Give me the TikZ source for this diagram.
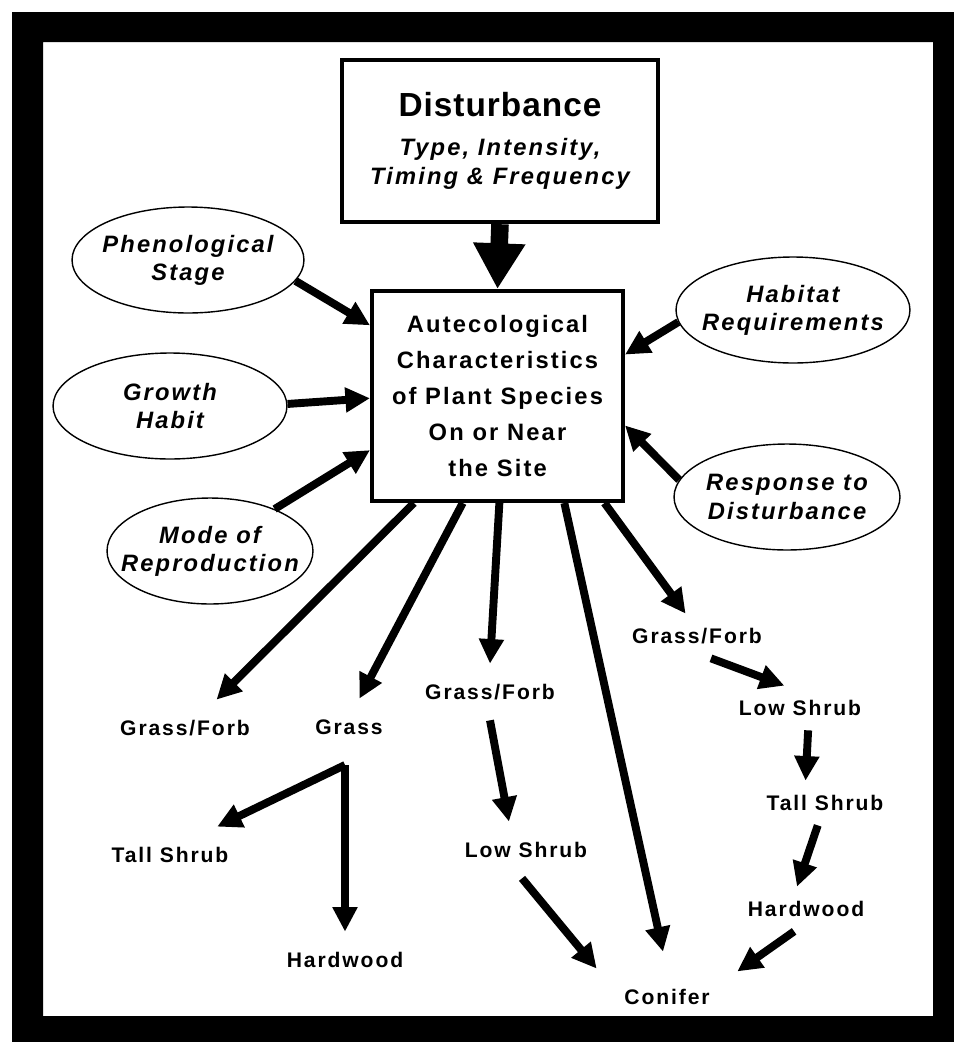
\documentclass[tikz,border=0pt]{standalone}
\usepackage{fontspec}
\setmainfont{Liberation Sans}
\newfontfamily\trackedfont[LetterSpace=9]{Liberation Sans}
\newfontfamily\titlefont[LetterSpace=3]{Liberation Sans}
\usetikzlibrary{arrows.meta,shapes.geometric}
\newcommand{\factor}[4]{%
  \node[factor,minimum width=#3] (#1) at (#2) {};
  \node[factortext] (#1-text) at (#1) {#4};
}

\begin{document}
\begin{tikzpicture}[x=.02cm,y=-.02cm,
    every node/.style={font=\trackedfont\bfseries\fontsize{12}{14}\selectfont},
    factor/.style={ellipse,draw,line width=.8pt,minimum height=2.12cm,inner sep=0pt},
    factortext/.style={align=center,inner sep=0pt,font=\trackedfont\bfseries\itshape\fontsize{13.5}{16}\selectfont},
    stagebox/.style={minimum height=1.12cm,inner sep=0pt},
    flow/.style={line width=4.5pt,-{Triangle[length=14pt,width=13.5pt]}},
    bigflow/.style={line width=10pt,-{Triangle[length=26pt,width=28pt]}}]
  \useasboundingbox (0,0) rectangle (954,1042);
  \fill[white] (0,0) rectangle (954,1042);
  % heavy frame
  \fill[black,even odd rule] (12,12) rectangle (954,1042) (43,42) rectangle (933,1016);

  % boxes
  \node[draw,line width=2.5pt,minimum width=6.32cm,minimum height=3.24cm,align=center,
        font=\trackedfont\bfseries\itshape\fontsize{13.5}{16.4}\selectfont] (disturb) at (500,141)
       {{\titlefont\upshape\fontsize{19}{22}\selectfont Disturbance}\\[5.6pt]Type, Intensity,\\Timing \& Frequency};
  \node[draw,line width=2.3pt,minimum width=5.02cm,minimum height=4.2cm,align=center,
        font=\trackedfont\bfseries\fontsize{13.5}{20.5}\selectfont] (core) at (497.5,396)
       {Autecological\\Characteristics\\of Plant Species\\On or Near\\the Site};

  % factors
  \factor{pheno}{188,260}{4.64cm}{Phenological\\Stage}
  \factor{habit}{170,406}{4.68cm}{Growth\\Habit}
  \factor{repro}{210,551}{4.12cm}{Mode of\\Reproduction}
  \factor{needs}{793,310}{4.68cm}{Habitat\\Requirements}
  \factor{response}{787,497}{4.52cm}{Response to\\Disturbance}

  % successional stages
  \node[stagebox] (gfL) at (185,728) {Grass/Forb};
  \node[stagebox] (grass) at (349,727) {Grass};
  \node[stagebox] (tsL) at (170,855) {Tall Shrub};
  \node[stagebox] (hwL) at (345,960) {Hardwood};
  \node[stagebox] (gfM) at (490,692) {Grass/Forb};
  \node[stagebox] (lsM) at (526,850) {Low Shrub};
  \node[stagebox,minimum width=2.8cm,minimum height=1.8cm] (conifer) at (667,997) {Conifer};
  \node[stagebox,minimum height=.88cm] (gfR) at (697,636) {Grass/Forb};
  \node[stagebox,minimum height=.88cm] (lsR) at (800,708) {Low Shrub};
  \node[stagebox,minimum height=.88cm] (tsR) at (825,803) {Tall Shrub};
  \node[stagebox,minimum height=.88cm] (hwR) at (806,909) {Hardwood};
  \coordinate (split) at (345,765);

  % arrows
  \draw[bigflow] (disturb.south) -- (core.north);
  \draw[flow] (pheno.349) -- (core.151);
  \draw[flow] (habit.1) -- (core.181);
  \draw[flow] (repro.33) -- (core.203);
  \draw[flow] (needs.186) -- (core.18);
  \draw[flow] (response.171) -- (core.347);
  \draw[flow] (core.232) -- (gfL.42);
  \draw[flow] (core.252) -- (grass.70);
  \draw[flow] (core.271) -- (gfM.north);
  \draw[flow] (core.302) -- (conifer.95);
  \draw[flow] (core.315) -- (gfR.117);
  \draw[flow] (split) -- (tsL.31);
  \draw[flow] (split) -- (hwL.north);
  \draw[flow] (gfM.south) -- (lsM.121);
  \draw[flow] (lsM.262) -- (conifer.158);
  \draw[flow] (gfR.302) -- (lsR.125);
  \draw[flow] (lsR.290) -- (tsR.131);
  \draw[flow] (tsR.252) -- (hwR.112);
  \draw[flow] (hwR.242) -- (conifer.20);
\end{tikzpicture}
\end{document}
